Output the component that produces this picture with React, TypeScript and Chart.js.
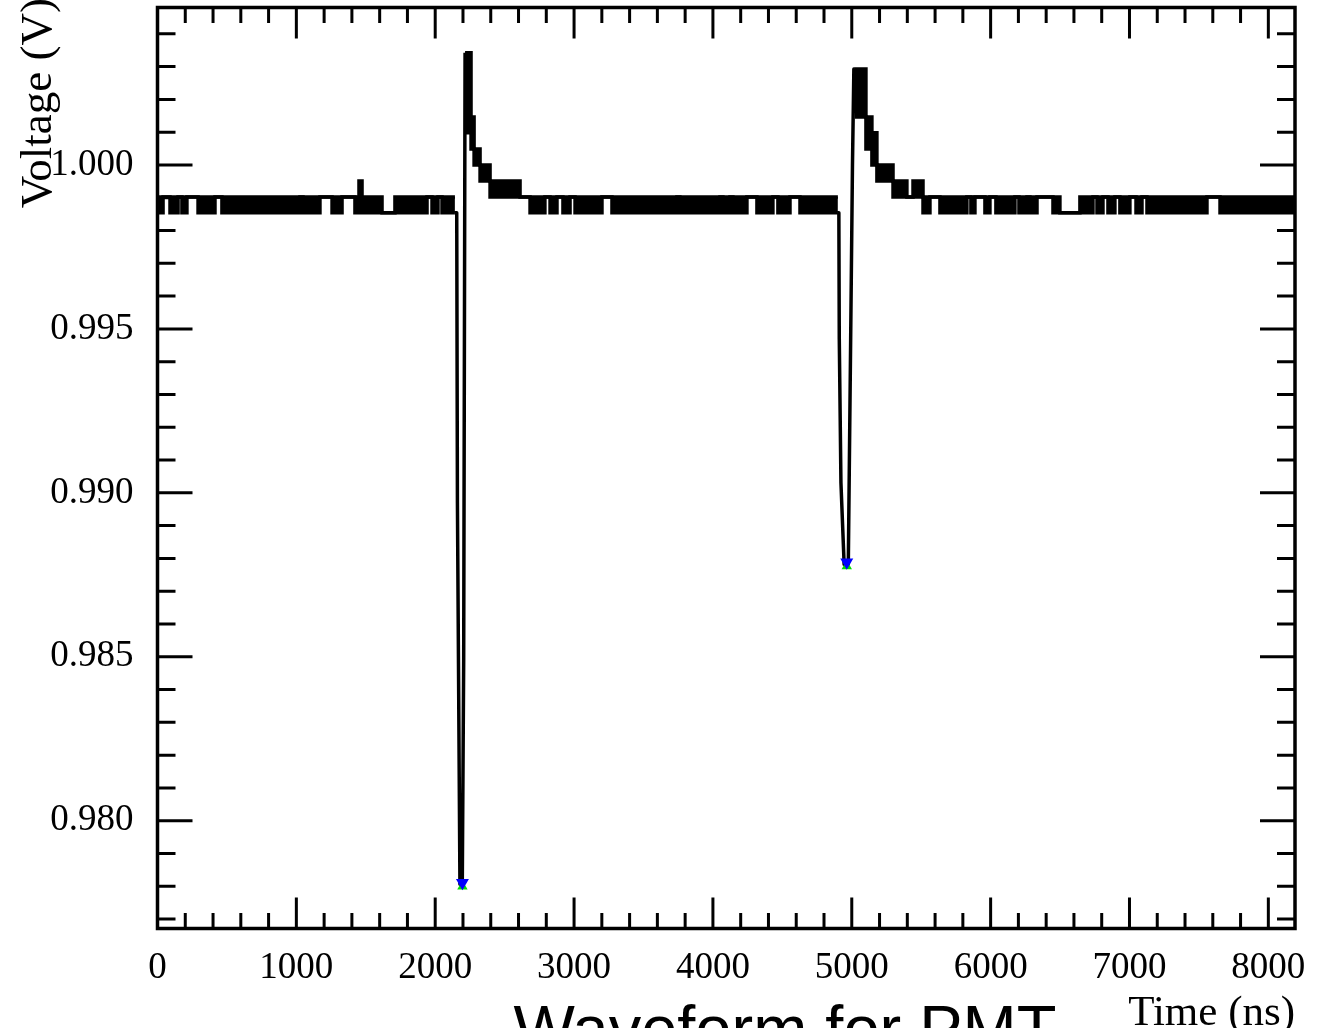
import React, { useEffect, useRef } from 'react';
import { Chart, registerables } from 'chart.js';

Chart.register(...registerables);

type Seg = [number, number, number, number]; // [t0 ns, t1 ns, low V, high V]

// ADC levels (V)
const L3 = 0.99854;
const L2 = 0.99902;
const L1 = 0.99951;
const L0 = 1.0;
const U1 = 1.00049;
const U2 = 1.00098;
const U3 = 1.00146;
const U6 = 1.00293;
const U7 = 1.00342;

// Axis ranges and tick steps
const xRange = [0, 8192];
const yRange = [0.976712, 1.004803];
const xMajorStep = 1000;
const xMinorStep = 200;
const yMajorStep = 0.005;
const yMinorStep = 0.001;

// Baseline before the first pulse: segments where the ADC toggles (low<high) or stays (low==high)
const bandA: Seg[] = [
  [0, 40, L3, L2],
  [40, 90, L2, L2],
  [90, 148, L3, L2],
  [148, 176, L2, L2],
  [176, 212, L3, L2],
  [212, 292, L2, L2],
  [292, 414, L3, L2],
  [414, 464, L2, L2],
  [464, 1026, L3, L2],
  [1026, 1048, L2, L2],
  [1048, 1170, L3, L2],
  [1170, 1257, L2, L2],
  [1257, 1329, L3, L2],
  [1329, 1422, L2, L2],
  [1422, 1451, L3, L2],
  [1451, 1473, L3, L1],
  [1473, 1617, L3, L2],
  [1617, 1710, L3, L3],
  [1710, 1941, L3, L2],
  [1941, 1977, L2, L2],
  [1977, 2020, L3, L2],
  [2020, 2049, L2, L2],
  [2049, 2142, L3, L2],
];

// Overshoot decay of pulse 1 and baseline up to pulse 2
const bandB: Seg[] = [
  [2215, 2258, U2, U7],
  [2258, 2280, U1, U3],
  [2280, 2323, L0, U1],
  [2323, 2395, L1, L0],
  [2395, 2611, L2, L1],
  [2611, 2683, L2, L2],
  [2683, 2790, L3, L2],
  [2790, 2827, L2, L2],
  [2827, 2877, L3, L2],
  [2877, 2920, L2, L2],
  [2920, 2971, L3, L2],
  [2971, 3007, L2, L2],
  [3007, 3201, L3, L2],
  [3201, 3273, L2, L2],
  [3273, 3741, L3, L2],
  [3741, 3762, L2, L2],
  [3762, 4051, L3, L2],
  [4051, 4072, L2, L2],
  [4072, 4123, L3, L2],
  [4123, 4144, L2, L2],
  [4144, 4245, L3, L2],
  [4245, 4317, L2, L2],
  [4317, 4432, L3, L2],
  [4432, 4468, L2, L2],
  [4468, 4555, L3, L2],
  [4555, 4627, L2, L2],
  [4627, 4900, L3, L2],
];

// Overshoot decay of pulse 2 and baseline to the end
const bandC: Seg[] = [
  [5023, 5102, U3, U6],
  [5102, 5145, U1, U3],
  [5145, 5181, L0, U2],
  [5181, 5297, L1, L0],
  [5297, 5397, L2, L1],
  [5397, 5441, L2, L2],
  [5441, 5513, L2, L1],
  [5513, 5563, L3, L2],
  [5563, 5635, L2, L2],
  [5635, 5829, L3, L2],
  [5829, 5858, L2, L2],
  [5858, 5887, L3, L2],
  [5887, 5959, L2, L2],
  [5959, 5995, L3, L2],
  [5995, 6038, L2, L2],
  [6038, 6175, L3, L2],
  [6175, 6204, L2, L2],
  [6204, 6262, L3, L2],
  [6262, 6283, L2, L2],
  [6283, 6334, L3, L2],
  [6334, 6449, L2, L2],
  [6449, 6499, L3, L2],
  [6499, 6643, L3, L3],
  [6643, 6737, L3, L2],
  [6737, 6766, L2, L2],
  [6766, 6809, L3, L2],
  [6809, 6845, L2, L2],
  [6845, 6895, L3, L2],
  [6895, 6931, L2, L2],
  [6931, 7003, L3, L2],
  [7003, 7047, L2, L2],
  [7047, 7090, L3, L2],
  [7090, 7126, L2, L2],
  [7126, 7558, L3, L2],
  [7558, 7652, L2, L2],
  [7652, 8192, L3, L2],
];

// Pulse samples (ns, V)
const pulse1Time = [2142, 2155, 2160, 2178, 2195, 2205, 2215];
const pulse1Volt = [L3, L3, 0.9897, 0.97806, 0.97806, 0.98485, U7];
const pulse2Time = [4900, 4907, 4910, 4922, 4945, 4975, 4992, 5005, 5015, 5023];
const pulse2Volt = [L3, L3, 0.9947, 0.9903, 0.98782, 0.98782, 0.9947, 1.0, U6, U6];

// Found minima markers
const minTime = [2196, 4964];
const minVoltBlue = [0.97811, 0.98788];
const minVoltGreen = [0.97799, 0.98776];

const titleText = 'Waveform for PMT';
const xTitle = 'Time (ns)';
const yTitle = 'Voltage (V)';

type Pt = { x: number; y: number | null };

function buildBand(groups: Seg[][]) {
  const upper: Pt[] = [];
  const lower: Pt[] = [];
  groups.forEach((g, gi) => {
    if (gi > 0) {
      const prev = groups[gi - 1];
      const gx = (prev[prev.length - 1][1] + g[0][0]) / 2;
      upper.push({ x: gx, y: null });
      lower.push({ x: gx, y: null });
    }
    g.forEach(([t0, t1, lo, hi]) => {
      upper.push({ x: t0, y: hi }, { x: t1, y: hi });
      lower.push({ x: t0, y: lo }, { x: t1, y: lo });
    });
  });
  return { upper, lower };
}

const zip = (t: number[], v: number[]) => t.map((x, i) => ({ x, y: v[i] }));

const rootFrame = {
  id: 'rootFrame',
  afterDatasetsDraw(chart: any) {
    const { ctx, chartArea: a, scales } = chart;
    const xs = scales.x;
    const ys = scales.y;
    ctx.save();
    ctx.strokeStyle = '#000';
    ctx.lineCap = 'butt';
    ctx.lineWidth = 3;
    ctx.beginPath();
    const nx = Math.floor((xRange[1] - xRange[0]) / xMinorStep + 1e-9);
    for (let i = 0; i <= nx; i++) {
      const t = xRange[0] + i * xMinorStep;
      const px = xs.getPixelForValue(t);
      const major = Math.abs(t / xMajorStep - Math.round(t / xMajorStep)) < 1e-6;
      const len = major ? 31 : 15.5;
      ctx.moveTo(px, a.bottom);
      ctx.lineTo(px, a.bottom - len);
      ctx.moveTo(px, a.top);
      ctx.lineTo(px, a.top + len);
    }
    const k0 = Math.ceil(yRange[0] / yMinorStep - 1e-9);
    const k1 = Math.floor(yRange[1] / yMinorStep + 1e-9);
    const ratio = Math.round(yMajorStep / yMinorStep);
    for (let k = k0; k <= k1; k++) {
      const py = ys.getPixelForValue(k * yMinorStep);
      const len = k % ratio === 0 ? 35 : 18;
      ctx.moveTo(a.left, py);
      ctx.lineTo(a.left + len, py);
      ctx.moveTo(a.right, py);
      ctx.lineTo(a.right - len, py);
    }
    ctx.stroke();
    ctx.lineWidth = 3.5;
    ctx.strokeRect(a.left, a.top, a.right - a.left, a.bottom - a.top);

    // axis titles (ROOT style, at the axis ends) and the main title
    ctx.fillStyle = '#000';
    ctx.font = '43px "Liberation Serif"';
    ctx.textAlign = 'right';
    ctx.textBaseline = 'alphabetic';
    ctx.fillText(xTitle, a.right, 1025);

    ctx.save();
    ctx.translate(51, -2);
    ctx.rotate(-Math.PI / 2);
    ctx.font = '45px "Liberation Serif"';
    ctx.textAlign = 'right';
    ctx.fillText(yTitle, 0, 0);
    ctx.restore();

    ctx.font = '65px "Liberation Sans"';
    ctx.textAlign = 'center';
    ctx.fillText(titleText, 785, 1051);
    ctx.restore();
  },
};

export default function App() {
  const ref = useRef<HTMLCanvasElement>(null);

  useEffect(() => {
    if (!ref.current) return;
    const { upper, lower } = buildBand([bandA, bandB, bandC]);
    const lineCommon = {
      borderColor: '#000',
      borderWidth: 3.5,
      pointRadius: 0,
      pointHoverRadius: 0,
      tension: 0,
      spanGaps: false,
      borderCapStyle: 'butt' as const,
    };
    const zeroPad = (s: any) => {
      s.paddingLeft = 0;
      s.paddingRight = 0;
      s.paddingTop = 0;
      s.paddingBottom = 0;
    };
    const chart = new Chart(ref.current, {
      type: 'line',
      data: {
        datasets: [
          {
            ...lineCommon,
            label: 'band upper',
            data: upper as any,
            fill: '+1',
            backgroundColor: '#000',
            borderJoinStyle: 'miter',
            order: 2,
          },
          {
            ...lineCommon,
            label: 'band lower',
            data: lower as any,
            fill: false,
            borderJoinStyle: 'miter',
            order: 3,
          },
          {
            ...lineCommon,
            label: 'pulse 1',
            data: zip(pulse1Time, pulse1Volt),
            fill: false,
            borderJoinStyle: 'round',
            order: 2,
          },
          {
            ...lineCommon,
            label: 'pulse 2',
            data: zip(pulse2Time, pulse2Volt),
            fill: false,
            borderJoinStyle: 'round',
            order: 2,
          },
          {
            label: 'minimum (green)',
            data: zip(minTime, minVoltGreen),
            showLine: false,
            pointStyle: 'triangle',
            pointRadius: 6,
            pointBorderWidth: 0,
            pointBackgroundColor: '#00dd00',
            pointBorderColor: '#00dd00',
            order: 1,
          },
          {
            label: 'minimum (blue)',
            data: zip(minTime, minVoltBlue),
            showLine: false,
            pointStyle: 'triangle',
            pointRotation: 180,
            pointRadius: 7.5,
            pointBorderWidth: 0,
            pointBackgroundColor: '#0000ff',
            pointBorderColor: '#0000ff',
            order: 0,
          },
        ],
      },
      options: {
        animation: false,
        responsive: false,
        devicePixelRatio: 1,
        events: [],
        layout: { padding: { left: 0, right: 22, top: 1.5, bottom: 0 } },
        plugins: {
          legend: { display: false },
          tooltip: { enabled: false },
          title: { display: false },
        },
        scales: {
          x: {
            type: 'linear',
            min: xRange[0],
            max: xRange[1],
            grid: { display: false, drawTicks: false },
            border: { display: false },
            ticks: {
              includeBounds: false,
              autoSkip: false,
              maxRotation: 0,
              padding: 18,
              color: '#000',
              font: { family: 'Liberation Serif', size: 37 },
              callback: (v: any) => String(Math.round(Number(v))),
            },
            afterBuildTicks: (s: any) => {
              const ticks = [];
              for (let v = xRange[0]; v <= xRange[1] + 1e-9; v += xMajorStep) ticks.push({ value: v });
              s.ticks = ticks;
            },
            afterFit: (s: any) => {
              s.height = 99.5;
              zeroPad(s);
            },
          },
          y: {
            type: 'linear',
            min: yRange[0],
            max: yRange[1],
            grid: { display: false, drawTicks: false },
            border: { display: false },
            ticks: {
              stepSize: yMajorStep,
              includeBounds: false,
              autoSkip: false,
              padding: 24,
              color: '#000',
              font: { family: 'Liberation Serif', size: 37 },
              callback: (v: any) => Number(v).toFixed(3),
            },
            afterFit: (s: any) => {
              s.width = 157.5;
              zeroPad(s);
            },
          },
        },
      },
      plugins: [rootFrame],
    } as any);
    return () => chart.destroy();
  }, []);

  return (
    <div style={{ position: 'absolute', left: 0, top: 0, width: 1317, height: 1028, background: '#fff', overflow: 'hidden' }}>
      <canvas ref={ref} width={1317} height={1028} style={{ display: 'block', width: 1317, height: 1028 }} />
    </div>
  );
}
